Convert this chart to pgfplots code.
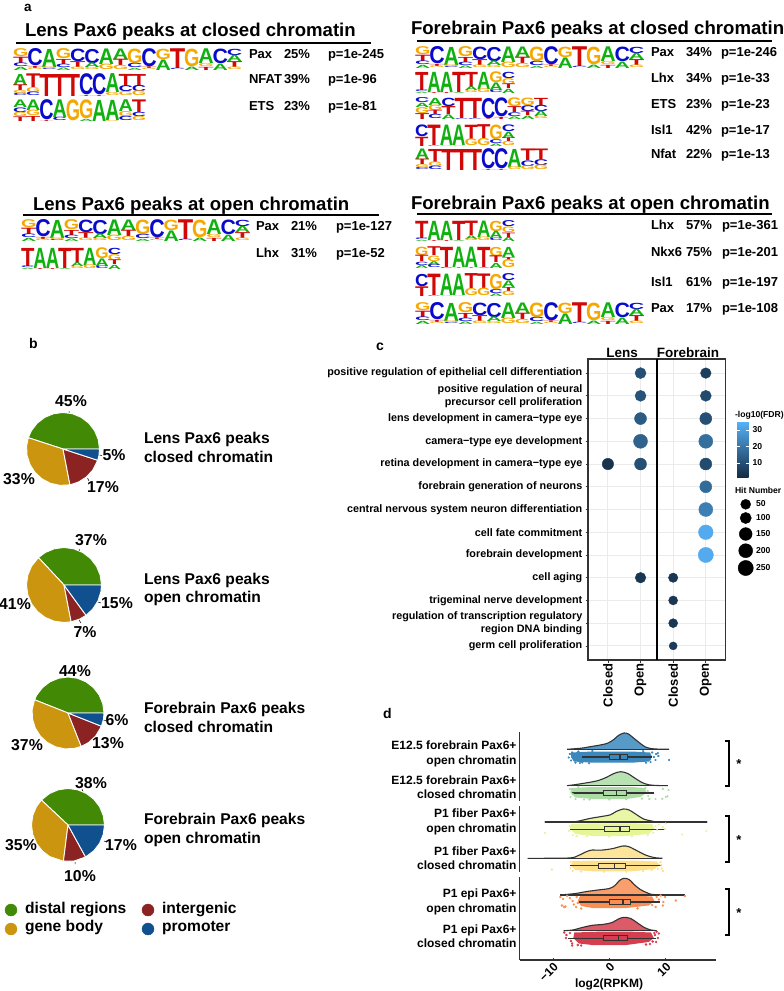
\documentclass[border=0pt]{standalone}
\usepackage{fontspec}
\setmainfont{Liberation Sans}
\usepackage{graphicx}
\usepackage{pgfplots}
\pgfplotsset{compat=1.18}
\usepgfplotslibrary{polar,statistics}

\newcommand{\fs}[1]{\fontsize{#1}{#1}\selectfont\bfseries}
\newcommand{\Txt}[5][mid west]{\node[anchor=#1,inner sep=0pt,outer sep=0pt] at (axis cs:#2,#3) {\fs{#4}#5};}

% sequence logo colours
\definecolor{colA}{HTML}{10B010}
\definecolor{colC}{HTML}{0A0ACC}
\definecolor{colG}{HTML}{F5A800}
\definecolor{colT}{HTML}{D00808}
% annotation colours
\definecolor{pgreen}{HTML}{428A05}
\definecolor{pgold}{HTML}{CC9510}
\definecolor{pred}{HTML}{8C2323}
\definecolor{pblue}{HTML}{11508F}
% rain cloud colours
\definecolor{r1}{HTML}{3B88BD}
\definecolor{r2}{HTML}{ABDDA4}
\definecolor{r3}{HTML}{E6F598}
\definecolor{r4}{HTML}{FEE08B}
\definecolor{r5}{HTML}{F98E52}
\definecolor{r6}{HTML}{D53E4F}
\definecolor{dk}{HTML}{333333}

% motifs: one group per column, letters top to bottom with their share
\def\PAX{{G/.38,T/.3,C/.17,A/.15},{C/.82,T/.1,G/.08},{A/.86,G/.09,C/.05},{G/.48,T/.24,C/.16,A/.12},{C/.6,T/.28,G/.12},{C/.68,A/.22,G/.1},{A/.74,G/.26},{A/.5,T/.3,G/.2},{G/.7,C/.2,A/.1},{C/.86,T/.08,G/.06},{G/.5,A/.5},{T/.94,C/.06},{G/.84,A/.16},{A/.7,G/.15,T/.15},{C/.7,A/.3},{C/.3,A/.3,T/.28,G/.12}}
\def\NFAT{{A/.5,T/.26,G/.14,C/.1},{T/.62,G/.22,C/.16},{T/1},{T/1},{T/1},{C/.96,T/.04},{C/.96,T/.04},{A/.86,G/.14},{T/.55,C/.27,G/.18},{T/.5,C/.28,G/.22}}
\def\ETSA{{A/.36,C/.22,G/.2,T/.22},{A/.5,G/.26,T/.24},{C/.96,T/.04},{A/.84,C/.16},{G/1},{G/.9,A/.1},{A/1},{A/.96,G/.04},{A/.56,G/.24,C/.2},{T/.6,C/.2,G/.2}}
\def\ETSB{{C/.24,A/.2,G/.28,T/.28},{A/.34,G/.26,T/.2,C/.2},{C/.4,T/.38,A/.22},{T/.96,C/.04},{T/.96,C/.04},{C/.97,T/.03},{C/.9,T/.1},{G/.42,T/.28,C/.18,A/.12},{G/.36,C/.28,T/.2,A/.16},{T/.34,C/.3,A/.26,G/.1}}
\def\LHX{{T/.86,C/.08,A/.06},{A/.96,T/.04},{A/.96,T/.04},{T/.96,A/.04},{T/.72,A/.18,G/.1},{A/.82,G/.18},{G/.52,A/.36,C/.12},{C/.3,G/.28,T/.22,A/.2}}
\def\ISL{{C/.56,T/.44},{T/.97,C/.03},{A/.97,G/.03},{A/.97,G/.03},{T/.68,G/.32},{T/.66,G/.34},{G/.7,C/.18,A/.12},{C/.32,A/.3,T/.18,G/.2}}
\def\NKX{{G/.4,T/.3,C/.16,A/.14},{T/.42,G/.26,A/.18,C/.14},{T/.96,C/.04},{A/.97,T/.03},{A/.97,T/.03},{T/.96,A/.04},{G/.44,T/.32,A/.24},{A/.48,T/.14,G/.38}}

\newcommand{\Logo}[5]{%
  \foreach \col [count=\ii from 0] in #5 {%
    \gdef\logoc{0}%
    \foreach \LL/\hh in \col {%
      \pgfmathsetmacro\px{#1+\ii*#3}%
      \pgfmathsetmacro\py{#2+\logoc}%
      \pgfmathsetmacro\lh{\hh*#4}%
      \pgfmathsetmacro\lw{#3*1.08}%
      \node[anchor=north west,inner sep=0pt,outer sep=0pt] at (axis cs:\px,\py)
        {\resizebox*{\lw pt}{\lh pt}{\textcolor{col\LL}{\bfseries\LL}}};
      \pgfmathsetmacro\tmpc{\logoc+\lh}%
      \global\let\logoc\tmpc
    }%
  }%
}

\pgfplotsset{pie/.style={hide axis,scale only axis,xmin=0,xmax=360,ymin=0,ymax=1,anchor=center,clip=false}}
\tikzset{w/.style={draw=white,line width=0.9pt,line join=round}}

\begin{document}
\begin{tikzpicture}
\useasboundingbox (0,0) rectangle (784pt,991pt);

% page frame in picture pixels: text, rules, logos and legends
\begin{axis}[at={(0pt,0pt)},anchor=south west,scale only axis,width=784pt,height=991pt,
  xmin=0,xmax=784,ymin=0,ymax=991,y dir=reverse,hide axis,clip=false]
\Txt{24}{9}{13.5}{a}
\Txt{29}{346}{14}{b}
\Txt{376}{348}{14}{c}
\Txt{383}{716}{14}{d}

\Txt[base west]{25}{36}{18.6}{Lens Pax6 peaks at closed chromatin}
\addplot[black,line width=2pt] coordinates {(16,42.5)(371,42.5)};
\Txt[base west]{33}{210}{18.6}{Lens Pax6 peaks at open chromatin}
\addplot[black,line width=2pt] coordinates {(23,214.5)(379,214.5)};
\Txt[base west]{411}{34}{18.6}{Forebrain Pax6 peaks at closed chromatin}
\addplot[black,line width=2pt] coordinates {(417,41)(772,41)};
\Txt[base west]{411}{209}{18.6}{Forebrain Pax6 peaks at open chromatin}
\addplot[black,line width=2pt] coordinates {(417,213.5)(772,213.5)};

\Txt{249}{56}{13}{Pax}\Txt{284}{56}{13}{25\%}\Txt{328}{56}{13}{p=1e-245}
\Txt{249}{81}{13}{NFAT}\Txt{284}{81}{13}{39\%}\Txt{328}{81}{13}{p=1e-96}
\Txt{249}{108}{13}{ETS}\Txt{284}{108}{13}{23\%}\Txt{328}{108}{13}{p=1e-81}
\Txt{256}{228}{13}{Pax}\Txt{291}{228}{13}{21\%}\Txt{336}{228}{13}{p=1e-127}
\Txt{256}{255}{13}{Lhx}\Txt{291}{255}{13}{31\%}\Txt{336}{255}{13}{p=1e-52}

\Txt{651}{54}{13}{Pax}\Txt{686}{54}{13}{34\%}\Txt{721}{54}{13}{p=1e-246}
\Txt{651}{80}{13}{Lhx}\Txt{686}{80}{13}{34\%}\Txt{721}{80}{13}{p=1e-33}
\Txt{651}{106}{13}{ETS}\Txt{686}{106}{13}{23\%}\Txt{721}{106}{13}{p=1e-23}
\Txt{651}{132}{13}{Isl1}\Txt{686}{132}{13}{42\%}\Txt{721}{132}{13}{p=1e-17}
\Txt{651}{156}{13}{Nfat}\Txt{686}{156}{13}{22\%}\Txt{721}{156}{13}{p=1e-13}
\Txt{651}{227}{13}{Lhx}\Txt{686}{227}{13}{57\%}\Txt{722}{227}{13}{p=1e-361}
\Txt{651}{254}{13}{Nkx6}\Txt{686}{254}{13}{75\%}\Txt{722}{254}{13}{p=1e-201}
\Txt{651}{284}{13}{Isl1}\Txt{686}{284}{13}{61\%}\Txt{722}{284}{13}{p=1e-197}
\Txt{651}{310}{13}{Pax}\Txt{686}{310}{13}{17\%}\Txt{722}{310}{13}{p=1e-108}

\pgfplotsextra{%
  \Logo{13}{49}{14.25}{21}{\PAX}
  \Logo{13}{74}{13.2}{22}{\NFAT}
  \Logo{13}{100}{13.2}{21}{\ETSA}
  \Logo{21}{220}{14.25}{21}{\PAX}
  \Logo{21}{248}{12.4}{21}{\LHX}
  \Logo{415}{47}{14.25}{21}{\PAX}
  \Logo{415}{72}{12.4}{21}{\LHX}
  \Logo{415}{98}{13.2}{21}{\ETSB}
  \Logo{415}{125}{12.4}{21}{\ISL}
  \Logo{415}{149}{13.2}{21}{\NFAT}
  \Logo{415}{221}{12.4}{20}{\LHX}
  \Logo{415}{247}{12.4}{21}{\NKX}
  \Logo{415}{274}{12.4}{22}{\ISL}
  \Logo{415}{303}{14.25}{21}{\PAX}
}

% pie percentages and captions
\Txt[center]{71}{401}{15.8}{45\%}\Txt[center]{114}{455}{15.8}{5\%}\Txt[center]{19}{479}{15.8}{33\%}\Txt[center]{103}{487}{15.8}{17\%}
\Txt[center]{91}{540}{15.8}{37\%}\Txt[center]{117}{603}{15.8}{15\%}\Txt[center]{15}{604}{15.8}{41\%}\Txt[center]{85}{632}{15.8}{7\%}
\Txt[center]{75}{671}{15.8}{44\%}\Txt[center]{117}{720}{15.8}{6\%}\Txt[center]{27}{745}{15.8}{37\%}\Txt[center]{108}{743}{15.8}{13\%}
\Txt[center]{91}{783}{15.8}{38\%}\Txt[center]{121}{845}{15.8}{17\%}\Txt[center]{21}{845}{15.8}{35\%}\Txt[center]{80}{876}{15.8}{10\%}
\addplot[black,line width=0.5pt,unbounded coords=jump] coordinates {
  (69,411)(69,413.5) (1,nan) (99.5,455)(102,455.5) (1,nan) (87.5,478)(89,481) (1,nan)
  (79,549)(80,551.5) (1,nan) (98,602)(101,603) (1,nan) (79,620)(81,623) (1,nan)
  (103,720)(106,720.5) (1,nan) (82,789)(83,792) (1,nan) (104,841)(107,842) (1,nan) (75,862)(75,864)};

\Txt{144}{441}{15.6}{Lens Pax6 peaks}\Txt{144}{460}{15.6}{closed chromatin}
\Txt{144}{582}{15.6}{Lens Pax6 peaks}\Txt{144}{600}{15.6}{open chromatin}
\Txt{144}{711}{15.6}{Forebrain Pax6 peaks}\Txt{144}{730}{15.6}{closed chromatin}
\Txt{144}{822}{15.6}{Forebrain Pax6 peaks}\Txt{144}{841}{15.6}{open chromatin}

% pie legend
\addplot[only marks,mark=*,mark size=6pt,pgreen] coordinates {(11,910)};
\addplot[only marks,mark=*,mark size=6pt,pgold] coordinates {(11,929)};
\addplot[only marks,mark=*,mark size=6pt,pred] coordinates {(148,910)};
\addplot[only marks,mark=*,mark size=6pt,pblue] coordinates {(148,929)};
\Txt{25}{911}{15.6}{distal regions}\Txt{25}{929}{15.6}{gene body}
\Txt{162}{911}{15.6}{intergenic}\Txt{162}{929}{15.6}{promoter}

% legends of panel c
\Txt{735}{415}{8.6}{-log10(FDR)}
\Txt{735}{491}{8.6}{Hit Number}
\addplot[only marks,mark=*,mark size=5pt,black] coordinates {(745.7,504.3)};
\addplot[only marks,mark=*,mark size=5.6pt,black] coordinates {(745.7,518)};
\addplot[only marks,mark=*,mark size=6.4pt,black] coordinates {(745.7,534)};
\addplot[only marks,mark=*,mark size=7pt,black] coordinates {(745.7,550.7)};
\addplot[only marks,mark=*,mark size=7.6pt,black] coordinates {(745.7,568)};
\Txt{756}{504.3}{8.6}{50}\Txt{756}{518}{8.6}{100}\Txt{756}{534}{8.6}{150}\Txt{756}{550.7}{8.6}{200}\Txt{756}{568}{8.6}{250}
\Txt[center]{622}{353}{13.5}{Lens}\Txt[center]{688}{353}{13.5}{Forebrain}

% significance brackets of panel d
\addplot[black,line width=2pt] coordinates {(725,740.7)(729,740.7)(729,786)(725,786)};
\addplot[black,line width=2pt] coordinates {(725,816)(729,816)(729,861.7)(725,861.7)};
\addplot[black,line width=2pt] coordinates {(725,889)(729,889)(729,935)(725,935)};
\Txt[center]{739}{764}{13}{*}\Txt[center]{739}{840}{13}{*}\Txt[center]{739}{913}{13}{*}
\Txt[center]{609}{984}{12}{log2(RPKM)}
\end{axis}

% panel b: shares as wedges, angle boundaries from the percentages
\begin{polaraxis}[pie,at={(63pt,542pt)},width=73pt,height=73pt]
\addplot[w,fill=pgreen] coordinates {(0,0)(0,1)(15,1)(30,1)(45,1)(60,1)(75,1)(90,1)(105,1)(120,1)(135,1)(150,1)(162,1)(0,0)};
\addplot[w,fill=pgold] coordinates {(0,0)(162,1)(175,1)(190,1)(205,1)(220,1)(235,1)(250,1)(265,1)(281,1)(0,0)};
\addplot[w,fill=pred] coordinates {(0,0)(281,1)(295,1)(310,1)(325,1)(342,1)(0,0)};
\addplot[w,fill=pblue] coordinates {(0,0)(342,1)(350,1)(360,1)(0,0)};
\end{polaraxis}
\begin{polaraxis}[pie,at={(64pt,406pt)},width=75pt,height=75pt]
\addplot[w,fill=pgreen] coordinates {(0,0)(0,1)(15,1)(30,1)(45,1)(60,1)(75,1)(90,1)(105,1)(120,1)(133,1)(0,0)};
\addplot[w,fill=pgold] coordinates {(0,0)(133,1)(150,1)(165,1)(180,1)(195,1)(210,1)(225,1)(240,1)(255,1)(270,1)(281,1)(0,0)};
\addplot[w,fill=pred] coordinates {(0,0)(281,1)(295,1)(306,1)(0,0)};
\addplot[w,fill=pblue] coordinates {(0,0)(306,1)(320,1)(335,1)(350,1)(360,1)(0,0)};
\end{polaraxis}
\begin{polaraxis}[pie,at={(68pt,278pt)},width=72pt,height=72pt]
\addplot[w,fill=pgreen] coordinates {(0,0)(0,1)(15,1)(30,1)(45,1)(60,1)(75,1)(90,1)(105,1)(120,1)(135,1)(150,1)(158.4,1)(0,0)};
\addplot[w,fill=pgold] coordinates {(0,0)(158.4,1)(175,1)(190,1)(205,1)(220,1)(235,1)(250,1)(265,1)(280,1)(291.6,1)(0,0)};
\addplot[w,fill=pred] coordinates {(0,0)(291.6,1)(305,1)(320,1)(338.4,1)(0,0)};
\addplot[w,fill=pblue] coordinates {(0,0)(338.4,1)(350,1)(360,1)(0,0)};
\end{polaraxis}
\begin{polaraxis}[pie,at={(68pt,166pt)},width=73pt,height=73pt]
\addplot[w,fill=pgreen] coordinates {(0,0)(0,1)(15,1)(30,1)(45,1)(60,1)(75,1)(90,1)(105,1)(120,1)(136.8,1)(0,0)};
\addplot[w,fill=pgold] coordinates {(0,0)(136.8,1)(150,1)(165,1)(180,1)(195,1)(210,1)(225,1)(240,1)(262.8,1)(0,0)};
\addplot[w,fill=pred] coordinates {(0,0)(262.8,1)(280,1)(298.8,1)(0,0)};
\addplot[w,fill=pblue] coordinates {(0,0)(298.8,1)(315,1)(330,1)(345,1)(360,1)(0,0)};
\end{polaraxis}

% panel c: GO term dot plot
\begin{axis}[at={(588pt,331pt)},anchor=south west,scale only axis,width=137.7pt,height=301pt,
  xmin=0.39,xmax=4.61,ymin=0.38,ymax=13.62,y dir=reverse,
  axis line style={dk,line width=1.1pt},
  grid=major,grid style={line width=0.9pt,black!8},
  xtick={1,2,3,4},xticklabels={Closed,Open,Closed,Open},
  ytick={1,...,13},
  yticklabels={positive regulation of epithelial cell differentiation,
    {positive regulation of neural\\precursor cell proliferation},
    lens development in camera−type eye,camera−type eye development,
    retina development in camera−type eye,forebrain generation of neurons,
    central nervous system neuron differentiation,cell fate commitment,
    forebrain development,cell aging,trigeminal nerve development,
    {regulation of transcription regulatory\\region DNA binding},germ cell proliferation},
  tick align=outside,tick pos=left,major tick length=2.5pt,tick style={dk,line width=0.7pt},
  yticklabel style={font=\fontsize{10.8}{13}\selectfont\bfseries,align=right,inner sep=1pt,xshift=-2pt},
  xticklabel style={font=\fs{13},rotate=90,anchor=east,inner sep=1pt},
  colormap={fdr}{rgb255=(19,43,67) rgb255=(86,177,247)},
  point meta min=0.9,point meta max=35,
  colorbar,
  colorbar style={at={(1.082,0.7917)},anchor=north west,width=11.5pt,height=56.3pt,
    ytick={10,20,30},yticklabels={10,20,30},yticklabel pos=right,
    grid=none,axis line style={draw=none},tick align=inside,major tick length=2.5pt,
    tick style={white,line width=0.5pt},
    yticklabel style={font=\fs{8.6},inner sep=1pt,black,xshift=3pt}},
  clip=false]
\addplot[black,line width=1.3pt,no marks] coordinates {(2.5,0.38)(2.5,13.62)};
\addplot[scatter,only marks,mark=*,
  scatter/use mapped color={draw=mapped color,fill=mapped color},
  point meta=\thisrow{fdr},
  visualization depends on={\thisrow{r}\as\rad},
  scatter/@pre marker code/.append style={/tikz/mark size=\rad pt}]
  table {
x y r fdr
2 1 5.5 10
4 1 5.3 6
2 2 5.5 11
4 2 5.5 9
2 3 6 13
4 3 6 10
2 4 7 15
4 4 7 18
1 5 5.7 3
2 5 6 10
4 5 6 9
4 6 6 17
4 7 7 22
4 8 7.3 33
4 9 7.6 33
2 10 5.3 4
3 10 4.7 4
3 11 4.5 4
3 12 4.5 4
3 13 4 5
};
\end{axis}

% panel d: rain clouds, y counted in the picture's rows
\begin{axis}[at={(519.7pt,31pt)},anchor=south west,scale only axis,width=196pt,height=228pt,
  xmin=-15.9,xmax=18.87,ymin=732,ymax=960,y dir=reverse,clip=false,
  axis x line*=bottom,axis y line*=left,axis line style={dk,line width=1.2pt,-},
  xtick={-10,0,10},xticklabels={−10,0,10},
  ytick={754,787,822,858,902,936.5},
  yticklabels={{E12.5 forebrain Pax6+\\open chromatin},{E12.5 forebrain Pax6+\\closed chromatin},
    {P1 fiber Pax6+\\open chromatin},{P1 fiber Pax6+\\closed chromatin},
    {P1 epi Pax6+\\open chromatin},{P1 epi Pax6+\\closed chromatin}},
  yticklabel style={font=\fontsize{12}{14.4}\selectfont\bfseries,align=right,inner sep=1pt,xshift=-2pt},
  xticklabel style={font=\fs{12},rotate=45,anchor=north east,inner sep=1pt},
  ymajorticks=true,y tick style={draw=none},x tick style={dk,line width=0.7pt},
  major tick length=2.5pt]

% row 1
\addplot[fill=r1,draw=none] coordinates {(-6.8,752.5)(-3,751.5)(4,751.5)(7.2,752.5)(7.6,757)(7,761.5)(4,762.7)(-3,762.7)(-6.3,761.5)(-6.8,757)};
\addplot[only marks,mark=*,mark size=0.9pt,r1] coordinates {(-7,754)(-6.8,760.5)(-6.6,752.5)(-7.2,757.5)(-6,762.6)(-5.8,755)(-5.5,751.5)(-5.2,763)(-4.8,762.5)(-3.6,763.3)(-3,751)(6,751.2)(6.5,762.6)(6.8,754)(7.2,759.5)(7.3,762)(7.6,752.5)(7.9,757)(8.3,754)(8.6,753.2)(8.2,760)(8.7,756)(10.6,760)};
\addplot[fill=r1,fill opacity=0.85,draw=dk,line width=1.1pt,smooth] coordinates {(-7.5,749.3)(-5,748.2)(-3.5,746.8)(-1.6,745)(-.3,743.2)(.8,739.5)(1.6,735.5)(2.6,733)(3.4,734)(4.4,738.5)(5.4,743)(6.4,747)(7.5,748.6)(9,749.2)(10.6,749.3)};
\addplot[dk,line width=1.1pt] coordinates {(-7.5,749.3)(10.6,749.3)};
\addplot[boxplot prepared={lower whisker=-4.9,lower quartile=0,median=1.9,upper quartile=3.3,upper whisker=7.5,draw position=757,box extend=5,whisker extend=0,every box/.style={dk,line width=1pt},every whisker/.style={dk,line width=1.1pt},every median/.style={dk,line width=1.3pt}},dk] coordinates {};

% row 2
\addplot[fill=r2,draw=none] coordinates {(-6.8,788)(-3,787)(4,787)(6.3,788)(6.6,793)(5.5,797)(3,799)(-3,799)(-6,797.5)(-6.9,793)};
\addplot[only marks,mark=*,mark size=0.9pt,r2] coordinates {(-7,789)(-6.9,797)(-6.5,794)(-6,799)(-5.5,787)(-4.5,799.5)(-3.5,799.5)(0,799.5)(3,799.3)(5.8,798.6)(6.4,788)(6.8,791)(6.9,796)(7.1,799)(8.2,799)(9.4,798.8)(9.5,789)(10,797)(10.3,796.3)(10.5,790)};
\addplot[fill=r2,fill opacity=0.85,draw=dk,line width=1.1pt,smooth] coordinates {(-7.5,785.7)(-6,784.6)(-4,782.8)(-2,780.6)(-.5,777.3)(.8,773.5)(2,771.7)(3.2,773.3)(4.5,778)(5.8,782.5)(7,784.8)(8.5,785.5)(10.4,785.7)};
\addplot[dk,line width=1.1pt] coordinates {(-7.5,785.7)(10.4,785.7)};
\addplot[boxplot prepared={lower whisker=-6.6,lower quartile=-1,median=1.3,upper quartile=3,upper whisker=7.9,draw position=793,box extend=5,whisker extend=0,every box/.style={dk,line width=1pt},every whisker/.style={dk,line width=1.1pt},every median/.style={dk,line width=1.3pt}},dk] coordinates {};

% row 3
\addplot[fill=r3,draw=none] coordinates {(-6.8,824)(-3,823.3)(4,823.3)(7.6,824)(8,829)(7,834)(3,836)(-3,836)(-6,834)(-7,829)};
\addplot[only marks,mark=*,mark size=0.9pt,r3] coordinates {(-11.4,833)(-7,826)(-7.2,831)(-6.5,835)(-5.8,836)(-4,836.3)(0,836.5)(4,836.3)(6.8,835)(7.8,833)(8.2,826)(8.8,824.5)(8.5,830)(9.5,827)(9.9,829)(12.9,834.5)(17.2,831)(10,823.5)};
\addplot[fill=r3,fill opacity=0.85,draw=dk,line width=1.1pt,smooth] coordinates {(-11.5,822)(-6.5,821.8)(-5,820.5)(-3.5,818.5)(-1.5,816.6)(.2,814.8)(1.2,811.5)(2.5,809)(3.5,810)(4.8,814.5)(6,818.8)(7.5,821)(9,821.8)(17.4,822)};
\addplot[dk,line width=1.1pt] coordinates {(-11.5,822)(17.4,822)};
\addplot[boxplot prepared={lower whisker=-7,lower quartile=-.8,median=1.9,upper quartile=3.6,upper whisker=9.9,draw position=829.3,box extend=5,whisker extend=0,every box/.style={dk,line width=1pt},every whisker/.style={dk,line width=1.1pt},every median/.style={dk,line width=1.3pt}},dk] coordinates {};

% row 4
\addplot[fill=r4,draw=none] coordinates {(-6.6,861)(-3,860.7)(5,860.7)(8.4,861.5)(9,865)(8,869)(4,871.3)(-3,871.3)(-6,870)(-6.8,866)};
\addplot[only marks,mark=*,mark size=0.9pt,r4] coordinates {(-10.2,869.5)(-6.9,862)(-6.9,868)(-6.5,870.8)(-5,871.5)(-1,871.7)(3,871.7)(6,871)(7.5,870)(8.6,869)(9.1,862)(9.3,868.5)(9.5,871)(9.2,865)};
\addplot[fill=r4,fill opacity=0.85,draw=dk,line width=1.1pt,smooth] coordinates {(-14.5,858.3)(-7.2,858)(-5.5,855.5)(-4,851.5)(-3,850)(-1.5,850.2)(.5,848.7)(2.4,846)(3.5,846.8)(5,851)(6.5,855.2)(8,857.6)(9.4,858.3)};
\addplot[dk,line width=1.1pt] coordinates {(-14.5,858.3)(9.4,858.3)};
\addplot[boxplot prepared={lower whisker=-7,lower quartile=-2,median=.9,upper quartile=2.8,upper whisker=9.3,draw position=865.7,box extend=5,whisker extend=0,every box/.style={dk,line width=1pt},every whisker/.style={dk,line width=1.1pt},every median/.style={dk,line width=1.3pt}},dk] coordinates {};

% row 5
\addplot[fill=r5,draw=none] coordinates {(-5.2,896)(-2,895.5)(4,895.5)(7.6,896.5)(8,901)(7,905.5)(3,908)(-3,908)(-5,906)(-5.6,901)};
\addplot[only marks,mark=*,mark size=1pt,r5] coordinates {(-8.7,897)(-8.4,905.5)(-8,907)(-8.2,899)(-7.5,895.8)(-7.8,906.5)(-7,898)(-6.5,901)(-6.3,904.5)(-5.8,897)(-5.9,907)(-5.6,903)(-5,908.5)(5,908.3)(7.6,905)(8.2,907)(8.4,897)(8.8,899.5)(9.1,895.5)(9.5,905.5)(9.6,902)(9.9,897)(11.8,900.5)(13.4,896)};
\addplot[fill=r5,fill opacity=0.85,draw=dk,line width=1.1pt,smooth] coordinates {(-8.7,895)(-6,893.5)(-4,891.5)(-2,890)(0,888.5)(1,885.5)(1.8,880.5)(2.6,878.3)(3.5,879.5)(4.5,885)(5.5,889.5)(6.8,893)(8,894.6)(13.4,895)};
\addplot[dk,line width=1.1pt] coordinates {(-8.7,895)(13.4,895)};
\addplot[boxplot prepared={lower whisker=-5.3,lower quartile=0,median=2.4,upper quartile=3.7,upper whisker=8.9,draw position=902,box extend=5,whisker extend=0,every box/.style={dk,line width=1pt},every whisker/.style={dk,line width=1.1pt},every median/.style={dk,line width=1.3pt}},dk] coordinates {};

% row 6
\addplot[fill=r6,draw=none] coordinates {(-6.2,932.5)(-2,931.7)(4,931.7)(7.4,932.5)(7.9,938)(7,942)(3,945)(-3,945)(-5.4,943.5)(-6.4,938)};
\addplot[only marks,mark=*,mark size=1pt,r6] coordinates {(-8,932.5)(-7.6,935)(-7.7,938)(-7,933)(-6.8,941)(-6.6,943.5)(-6.6,945.5)(-5.6,945)(-5,945.5)(7.2,944)(7.7,941.5)(8,933)(8.1,935)(8.4,931.7)(8.6,938)(8.3,942)(8.8,933.5)(6.5,944.5)};
\addplot[fill=r6,fill opacity=0.85,draw=dk,line width=1.1pt,smooth] coordinates {(-8.1,930.7)(-6.5,930)(-4.8,927.5)(-3,925.3)(-1,924.3)(.5,922.5)(1.6,919)(2.6,917.3)(3.8,918.5)(5,923)(6.2,927.5)(7.4,930)(8.4,930.7)};
\addplot[dk,line width=1.1pt] coordinates {(-8.1,930.7)(8.4,930.7)};
\addplot[boxplot prepared={lower whisker=-7.4,lower quartile=-1.1,median=1.6,upper quartile=3.2,upper whisker=8.3,draw position=938.3,box extend=5,whisker extend=0,every box/.style={dk,line width=1pt},every whisker/.style={dk,line width=1.1pt},every median/.style={dk,line width=1.3pt}},dk] coordinates {};

% breaks in the left rule between the three groups
\addplot[white,line width=2.5pt] coordinates {(-15.9,800.5)(-15.9,805.5)};
\addplot[white,line width=2.5pt] coordinates {(-15.9,872)(-15.9,876.5)};
\end{axis}
\end{tikzpicture}
\end{document}
